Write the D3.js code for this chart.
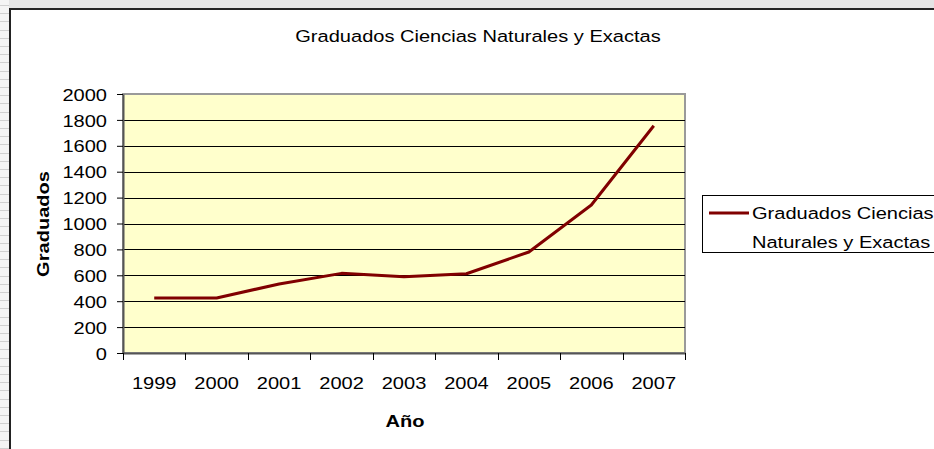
<!DOCTYPE html>
<html>
<head>
<meta charset="utf-8">
<script src="https://cdn.jsdelivr.net/npm/d3@7"></script>
<style>
  html, body { margin: 0; padding: 0; background: #fff; }
  svg { display: block; font-family: "Liberation Sans", Arial, sans-serif; }
</style>
</head>
<body>
<svg id="chart" width="934" height="449"></svg>
<script>
const years = ["1999", "2000", "2001", "2002", "2003", "2004", "2005", "2006", "2007"];
const graduados = [425, 425, 533, 615, 588, 612, 780, 1143, 1755];
const yTicks = [0, 200, 400, 600, 800, 1000, 1200, 1400, 1600, 1800, 2000];
const title = "Graduados Ciencias Naturales y Exactas";
const seriesName = ["Graduados Ciencias", "Naturales y Exactas"];

const svg = d3.select("#chart");
const plot = { left: 123, right: 685, top: 94, bottom: 353 };
const fontSize = 17;
const sx = 1.18; // the original font is drawn a bit wider than Arial

// widen a text horizontally, keeping its anchor point in place
function stretch(sel) {
  sel.each(function () {
    const t = d3.select(this);
    const x0 = +t.attr("x") || 0;
    t.attr("transform", `translate(${x0 * (1 - sx)},0) scale(${sx},1)`);
  });
}

// spreadsheet background behind the chart object
svg.append("rect").attr("width", 934).attr("height", 8).attr("fill", "#e4e4e4");
svg.append("rect").attr("width", 9).attr("height", 449).attr("fill", "#f4f4f4");
svg.append("g")
  .selectAll("line")
  .data(d3.range(5, 449, 8.2))
  .join("line")
  .attr("x1", 0).attr("x2", 9)
  .attr("y1", (d) => Math.round(d) + 0.5).attr("y2", (d) => Math.round(d) + 0.5)
  .attr("stroke", "#d0d0d0");

// chart frame
svg.append("rect")
  .attr("x", 10).attr("y", 9).attr("width", 930).attr("height", 450)
  .attr("fill", "#fff").attr("stroke", "#222").attr("stroke-width", 2);

const x = d3.scaleBand().domain(years).range([plot.left, plot.right]);
const y = d3.scaleLinear().domain([0, 2000]).range([plot.bottom, plot.top]);

svg.append("rect")
  .attr("x", plot.left).attr("y", plot.top)
  .attr("width", plot.right - plot.left).attr("height", plot.bottom - plot.top)
  .attr("fill", "#ffffcc").attr("stroke", "#9a9a9a").attr("stroke-width", 2);

// gridlines
svg.append("g")
  .selectAll("line")
  .data(yTicks.filter((d) => d > 0 && d < 2000))
  .join("line")
  .attr("x1", plot.left).attr("x2", plot.right)
  .attr("y1", (d) => Math.round(y(d)) + 0.5).attr("y2", (d) => Math.round(y(d)) + 0.5)
  .attr("stroke", "#000");

// y axis
const yAxis = svg.append("g")
  .attr("transform", `translate(${plot.left},0)`)
  .call(d3.axisLeft(y).tickValues(yTicks).tickFormat(d3.format("d"))
    .tickSize(6).tickPadding(10).tickSizeOuter(0));
yAxis.select(".domain").attr("stroke", "#555").attr("stroke-width", 2);
yAxis.selectAll(".tick line").attr("stroke", "#000");
yAxis.selectAll(".tick text").attr("font-size", fontSize).attr("fill", "#000")
  .attr("font-family", "Liberation Sans, Arial, sans-serif").attr("dy", "0.36em")
  .call(stretch);

// x axis
const xAxis = svg.append("g")
  .attr("transform", `translate(0,${plot.bottom})`)
  .call(d3.axisBottom(x).tickSize(0).tickPadding(24));
xAxis.select(".domain").attr("stroke", "#555").attr("stroke-width", 2);
xAxis.selectAll(".tick text").attr("font-size", fontSize).attr("fill", "#000")
  .attr("font-family", "Liberation Sans, Arial, sans-serif")
  .call(stretch);
xAxis.append("g")
  .selectAll("line")
  .data(years.map((d) => x(d)).concat([plot.right]))
  .join("line")
  .attr("x1", (d) => Math.round(d) + 0.5).attr("x2", (d) => Math.round(d) + 0.5)
  .attr("y1", 0).attr("y2", 7)
  .attr("stroke", "#000");

// series line
const line = d3.line()
  .x((d, i) => x(years[i]) + x.bandwidth() / 2)
  .y((d) => y(d));
svg.append("path")
  .datum(graduados)
  .attr("d", line)
  .attr("fill", "none")
  .attr("stroke", "#800000")
  .attr("stroke-width", 3)
  .attr("stroke-linejoin", "round");

// titles
svg.append("text")
  .attr("x", 478).attr("y", 42)
  .attr("text-anchor", "middle")
  .attr("font-size", fontSize)
  .text(title)
  .call(stretch);

svg.append("text")
  .attr("x", 405).attr("y", 427)
  .attr("text-anchor", "middle")
  .attr("font-size", fontSize)
  .attr("font-weight", "bold")
  .text("Año")
  .call(stretch);

svg.append("text")
  .attr("transform", `translate(49,224) rotate(-90) scale(${sx},1)`)
  .attr("text-anchor", "middle")
  .attr("font-size", fontSize)
  .attr("font-weight", "bold")
  .text("Graduados");

// legend
const legend = svg.append("g").attr("transform", "translate(702,195)");
legend.append("rect")
  .attr("x", 0.5).attr("y", 0.5).attr("width", 260).attr("height", 57)
  .attr("fill", "#fff").attr("stroke", "#000");
legend.append("line")
  .attr("x1", 7).attr("x2", 47).attr("y1", 18).attr("y2", 18)
  .attr("stroke", "#800000").attr("stroke-width", 3);
legend.append("text")
  .attr("font-size", fontSize)
  .attr("transform", `translate(${50 * (1 - sx)},0) scale(${sx},1)`)
  .selectAll("tspan")
  .data(seriesName)
  .join("tspan")
  .attr("x", 50)
  .attr("y", (d, i) => 24 + i * 29)
  .text((d) => d);
</script>
</body>
</html>
